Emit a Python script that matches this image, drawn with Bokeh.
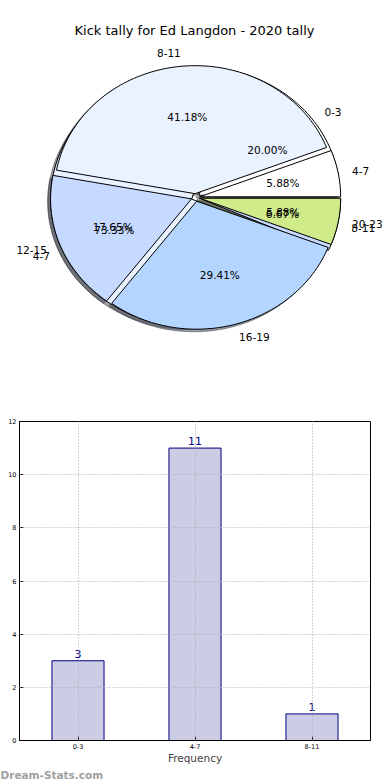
import numpy as np
from bokeh.plotting import figure
from bokeh.models import Range1d, ColumnDataSource, FactorRange, FixedTicker, Label, Title
from bokeh.core.properties import value
from bokeh.embed import file_html
from bokeh.resources import INLINE

# ---------------- data ----------------
title_text = "Kick tally for Ed Langdon - 2020 tally"

pie1_labels = ["4-7", "8-11", "12-15", "16-19", "20-23"]
pie1_counts = [1, 7, 3, 5, 1]
pie1_colors = ["#ffffff", "#eaf1ff", "#c6d9ff", "#b4d5ff", "#d0eb8a"]

pie2_labels = ["0-3", "4-7", "8-11"]
pie2_counts = [3, 11, 1]
pie2_colors = ["#ffffff", "#eaf1ff", "#c6d9ff"]

bar_cats = ["0-3", "4-7", "8-11"]
bar_values = [3, 11, 1]
y_ticks = [0, 2, 4, 6, 8, 10, 12]

FONT = value("DejaVu Sans")
W = 390

# ---------------- pie figure ----------------
EXPLODE = 0.03
H1 = 400
CX, CY, RX, RY = 195, 197, 141, 128
p1 = figure(width=W, height=H1, x_range=Range1d(-CX / RX, (W - CX) / RX),
            y_range=Range1d(-(H1 - CY) / RY, CY / RY), output_backend="svg",
            toolbar_location=None, min_border=0, min_border_left=0, min_border_right=0,
            min_border_top=0, min_border_bottom=0, x_axis_type=None, y_axis_type=None)
p1.grid.visible = False
p1.outline_line_color = None


def wedges(counts, explode):
    total = float(sum(counts))
    start = 0.0
    out = []
    for c in counts:
        span = 360.0 * c / total
        t1, t2 = start, start + span
        mid = np.radians((t1 + t2) / 2.0)
        dx, dy = explode * np.cos(mid), explode * np.sin(mid)
        n = max(4, int(span / 1.5))
        t = np.radians(np.linspace(t1, t2, n))
        xs = [dx] + list(dx + np.cos(t)) + [dx]
        ys = [dy] + list(dy + np.sin(t)) + [dy]
        out.append((xs, ys, mid, dx, dy, c / total))
        start = t2
    return out


def darker(hexcol):
    h = hexcol.lstrip("#")
    r, g, b = (int(h[i:i + 2], 16) for i in (0, 2, 4))
    return "#%02x%02x%02x" % (int(r * 0.3), int(g * 0.3), int(b * 0.3))


w1 = wedges(pie1_counts, EXPLODE)
w2 = wedges(pie2_counts, EXPLODE)

# shadows first
for ws, cols in ((w2, pie2_colors), (w1, pie1_colors)):
    p1.patches(xs=[[x - 0.02 for x in w[0]] for w in ws],
               ys=[[y - 0.02 for y in w[1]] for w in ws],
               fill_color=[darker(c) for c in cols], fill_alpha=0.5,
               line_color=[darker(c) for c in cols], line_alpha=0.5, line_width=1)

for ws, cols in ((w2, pie2_colors), (w1, pie1_colors)):
    p1.patches(xs=[w[0] for w in ws], ys=[w[1] for w in ws],
               fill_color=cols, line_color="black", line_width=1)


def add_texts(ws, labels):
    lx_l, ly_l, lt_l = [], [], []
    lx_r, ly_r, lt_r = [], [], []
    px, py, pt = [], [], []
    for (xs, ys, mid, dx, dy, frac), lab in zip(ws, labels):
        x = dx + 1.1 * np.cos(mid)
        y = dy + 1.1 * np.sin(mid)
        if x > 0:
            lx_l.append(x); ly_l.append(y); lt_l.append(lab)
        else:
            lx_r.append(x); ly_r.append(y); lt_r.append(lab)
        px.append(dx + 0.6 * np.cos(mid)); py.append(dy + 0.6 * np.sin(mid))
        pt.append("%.2f%%" % (frac * 100))
    if lt_l:
        p1.text(x=lx_l, y=ly_l, text=lt_l, text_align="left", text_baseline="middle",
                text_font=FONT, text_font_size="10.5px", text_color="black")
    if lt_r:
        p1.text(x=lx_r, y=ly_r, text=lt_r, text_align="right", text_baseline="middle",
                text_font=FONT, text_font_size="10.5px", text_color="black")
    p1.text(x=px, y=py, text=pt, text_align="center", text_baseline="middle",
            text_font=FONT, text_font_size="10.5px", text_color="black")


add_texts(w2, pie2_labels)
add_texts(w1, pie1_labels)

p1.add_layout(Label(x=194, y=H1 - 30, x_units="screen", y_units="screen", text=title_text,
                    text_align="center", text_baseline="middle",
                    text_font="DejaVu Sans", text_font_size="13px", text_color="black"))

# ---------------- bar figure ----------------
H2 = 380
p2 = figure(width=W, height=H2, x_range=FactorRange(*bar_cats, range_padding=0),
            y_range=Range1d(0, 12), output_backend="svg", toolbar_location=None,
            min_border_left=19, min_border_right=20, min_border_top=21, min_border_bottom=40)
p2.outline_line_color = "black"
p2.outline_line_width = 1

src = ColumnDataSource(dict(cat=bar_cats, val=bar_values, lab=[str(v) for v in bar_values]))
p2.vbar(x="cat", top="val", width=0.445, source=src, fill_color="#ccccE5",
        line_color="#000080", line_width=1)
p2.text(x="cat", y="val", text="lab", source=src, text_align="center", text_baseline="bottom",
        y_offset=-3, text_font=FONT, text_font_size="11px", text_color="#000080")

p2.grid.grid_line_color = "#a8a8a8"
p2.grid.grid_line_dash = "1 2"
p2.grid.grid_line_width = 1
p2.grid.level = "overlay"

p2.yaxis.ticker = FixedTicker(ticks=y_ticks)
for ax in (p2.xaxis[0], p2.yaxis[0]):
    ax.major_tick_in = 4
    ax.major_tick_out = 0
    ax.minor_tick_line_color = None
    ax.major_label_text_font = "DejaVu Sans"
    ax.major_label_text_font_size = "6.5px"
    ax.major_label_text_color = "black"
    ax.axis_line_color = "black"
p2.yaxis.major_label_standoff = 3
p2.xaxis.major_label_standoff = 3
p2.xaxis.axis_label = "Frequency"
p2.xaxis.axis_label_text_font = "DejaVu Sans"
p2.xaxis.axis_label_text_font_size = "10.5px"
p2.xaxis.axis_label_text_font_style = "normal"
p2.xaxis.axis_label_standoff = 0

p2.add_layout(Title(text="Dream-Stats.com", align="left", offset=-19, standoff=0,
                    text_font="DejaVu Sans", text_font_size="10.5px", text_font_style="bold",
                    text_color="#a0a0a0"), "below")

open("out.html", "w").write(file_html([p1, p2], INLINE))
